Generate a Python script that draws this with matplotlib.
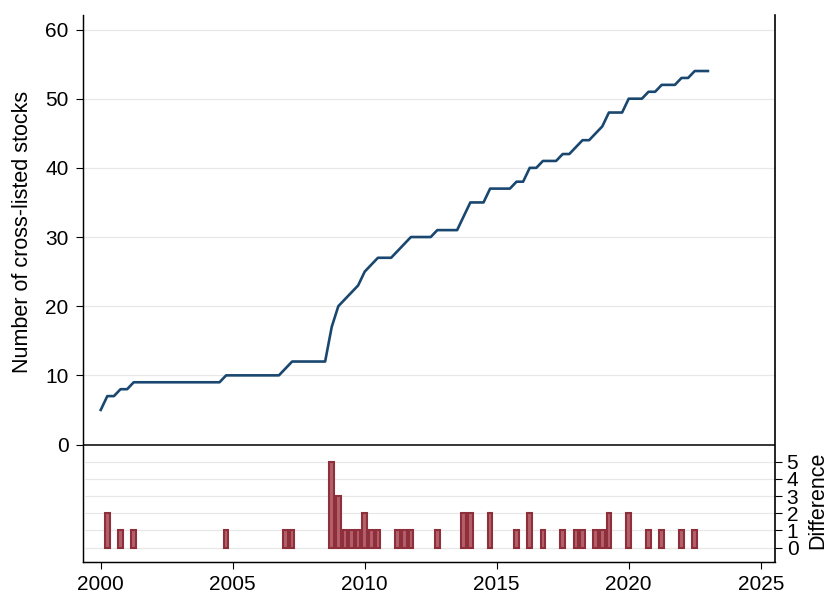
import matplotlib
matplotlib.use('Agg')
import matplotlib.pyplot as plt
import numpy as np
import pandas as pd

# quarterly count of cross-listed stocks, 2000Q1 .. 2023Q1
START_QUARTER = '2000Q1'
END_QUARTER = '2023Q1'
listed = [
    5, 7, 7, 8,          # 2000
    8, 9, 9, 9,          # 2001
    9, 9, 9, 9,          # 2002
    9, 9, 9, 9,          # 2003
    9, 9, 9, 10,         # 2004
    10, 10, 10, 10,      # 2005
    10, 10, 10, 10,      # 2006
    11, 12, 12, 12,      # 2007
    12, 12, 12, 17,      # 2008
    20, 21, 22, 23,      # 2009
    25, 26, 27, 27,      # 2010
    27, 28, 29, 30,      # 2011
    30, 30, 30, 31,      # 2012
    31, 31, 31, 33,      # 2013
    35, 35, 35, 37,      # 2014
    37, 37, 37, 38,      # 2015
    38, 40, 40, 41,      # 2016
    41, 41, 42, 42,      # 2017
    43, 44, 44, 45,      # 2018
    46, 48, 48, 48,      # 2019
    50, 50, 50, 51,      # 2020
    51, 52, 52, 52,      # 2021
    53, 53, 54, 54,      # 2022
    54,                  # 2023
]
x_ticks = [2000, 2005, 2010, 2015, 2020, 2025]
left_ticks = [0, 10, 20, 30, 40, 50, 60]
right_ticks = [0, 1, 2, 3, 4, 5]

LINE_COLOR = '#1a476f'
BAR_EDGE = '#8e2f3c'
BAR_FACE = '#b4606b'
GRID_COLOR = '#e8e8e8'
W, H = 827, 594

plt.rcParams['font.family'] = ['Liberation Sans', 'DejaVu Sans']


def quarter_positions():
    periods = pd.period_range(START_QUARTER, END_QUARTER, freq='Q')
    return np.array([p.year + (p.quarter - 1) / 4 for p in periods])


def make_graph():
    t = quarter_positions()
    counts = np.array(listed)
    diff = np.diff(counts)
    t_diff = t[1:]
    keep = diff > 0

    fig = plt.figure(figsize=(W / 100, H / 100), dpi=100)
    left, right, top, bottom = 83.3, 774.7, 15, 561.7
    ax = fig.add_axes([left / W, 1 - bottom / H, (right - left) / W, (bottom - top) / H])
    ax2 = ax.twinx()

    # left axis: line
    ax.set_xlim(1999.34, 2025.53)
    ax.set_ylim(-16.94, 62.1)
    ax.set_yticks(left_ticks)
    ax.set_xticks(x_ticks)
    for v in left_ticks[1:]:
        ax.axhline(v, color=GRID_COLOR, lw=0.9, zorder=0)
    ax.axhline(0, color='black', lw=1.1, zorder=1)
    ax.plot(t, counts, color=LINE_COLOR, lw=1.9, zorder=3)

    # right axis: bars
    ax2.set_ylim(-0.814, 30.97)
    ax2.set_yticks(right_ticks)
    for v in right_ticks:
        ax2.axhline(v, color=GRID_COLOR, lw=0.9, zorder=0)
    ax2.bar(t_diff[keep], diff[keep], width=0.17, color=BAR_FACE,
            edgecolor=BAR_EDGE, linewidth=1.5, zorder=2)

    for a in (ax, ax2):
        a.spines['top'].set_visible(False)
        for s in ('left', 'right', 'bottom'):
            a.spines[s].set_linewidth(0.9)
            a.spines[s].set_color('black')
        a.patch.set_visible(False)
    ax.spines['right'].set_visible(False)
    ax2.spines['right'].set_linewidth(1.2)

    ax.tick_params(axis='y', length=5, width=0.8, pad=5.5, labelsize=15)
    ax.tick_params(axis='x', length=5, width=0.8, pad=4.8, labelsize=15)
    ax2.tick_params(axis='y', length=5, width=0.8, pad=3.6, labelsize=15)

    fig.text(23 / W, 1 - 232 / H, 'Number of cross-listed stocks', rotation=90,
             ha='center', va='center', fontsize=15.5)
    fig.text(818 / W, 1 - 500 / H, 'Difference', rotation=90,
             ha='center', va='center', fontsize=15.5)

    fig.savefig('out.png', dpi=100)


if __name__ == '__main__':
    make_graph()
